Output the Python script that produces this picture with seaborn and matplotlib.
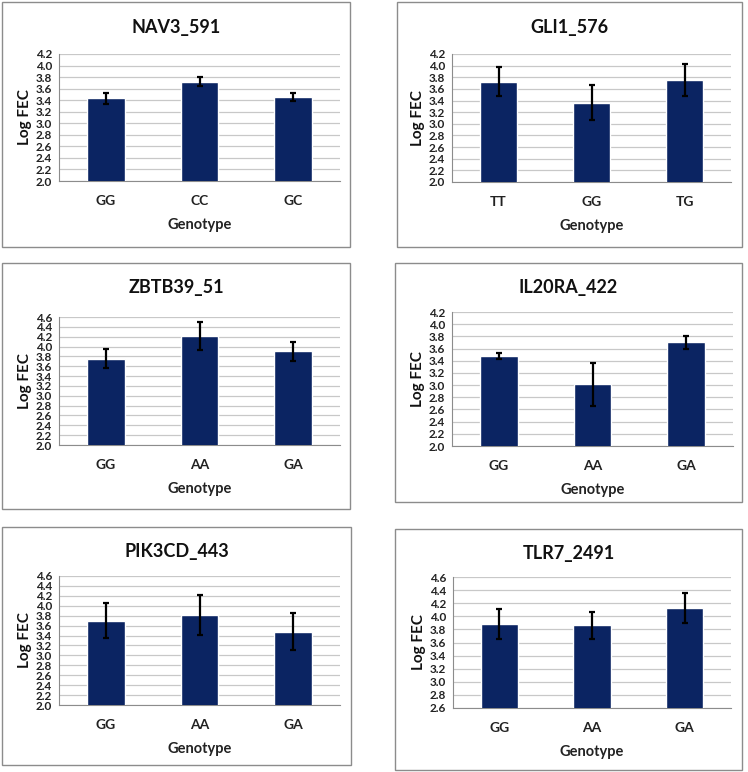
import numpy as np
import matplotlib
matplotlib.use("Agg")
import matplotlib.pyplot as plt
import seaborn as sns
import pandas as pd
from matplotlib.patches import Rectangle

sns.set_style("white")
plt.rcParams['font.family'] = ['Lato', 'DejaVu Sans']

# panel titles, genotypes, means and error bars
titles = ['NAV3_591', 'GLI1_576', 'ZBTB39_51', 'IL20RA_422', 'PIK3CD_443', 'TLR7_2491']
genotypes = [['GG', 'CC', 'GC'], ['TT', 'GG', 'TG'], ['GG', 'AA', 'GA'],
             ['GG', 'AA', 'GA'], ['GG', 'AA', 'GA'], ['GG', 'AA', 'GA']]
means = [[3.43, 3.72, 3.45], [3.72, 3.36, 3.75], [3.75, 4.21, 3.90],
         [3.48, 3.01, 3.70], [3.70, 3.81, 3.48], [3.88, 3.86, 4.13]]
errors = [[0.10, 0.08, 0.07], [0.25, 0.30, 0.28], [0.19, 0.28, 0.20],
          [0.05, 0.36, 0.11], [0.35, 0.40, 0.37], [0.23, 0.20, 0.23]]
ymins = [2.0, 2.0, 2.0, 2.0, 2.0, 2.6]
ymaxs = [4.2, 4.2, 4.6, 4.2, 4.6, 4.6]

W, H = 748, 772
# box (x0, y0, x1, y1) and plot area (x0, y0, x1, y1) in pixels, top-left origin
boxes = [(2, 2, 350, 247), (397, 2, 742, 247),
         (2, 263, 350, 509), (395, 263, 742, 502),
         (2, 527, 351, 765), (395, 529, 742, 770)]
areas = [(59, 54, 340, 181), (452, 54, 731, 182),
         (59, 317, 340, 445), (452, 312, 733, 446),
         (59, 576, 340, 705), (453, 577, 731, 708)]

bar_color = '#0b2462'

fig = plt.figure(figsize=(W / 100, H / 100), dpi=100)

for i in range(6):
    bx0, by0, bx1, by1 = boxes[i]
    fig.patches.append(Rectangle((bx0 / W, 1 - by1 / H), (bx1 - bx0) / W, (by1 - by0) / H,
                                 transform=fig.transFigure, fill=False,
                                 edgecolor='#8c8c8c', linewidth=1.0))
    # chart title is centred on the chart box, not on the plot area
    fig.text((bx0 + bx1) / 2 / W, 1 - (by0 + 25) / H, titles[i], ha='center', va='center',
             fontsize=13, fontweight='bold', color='#111111')

    ax0, ay0, ax1, ay1 = areas[i]
    ax = fig.add_axes([ax0 / W, 1 - ay1 / H, (ax1 - ax0) / W, (ay1 - ay0) / H])

    df = pd.DataFrame({'Genotype': genotypes[i], 'LogFEC': means[i]})
    sns.barplot(data=df, x='Genotype', y='LogFEC', color=bar_color, width=0.4,
                saturation=1, ax=ax, zorder=3)
    ax.errorbar(range(3), means[i], yerr=errors[i], fmt='none', ecolor='black',
                elinewidth=1.6, capsize=2.5, capthick=1.6, zorder=4)

    ax.set_xlim(-0.5, 2.5)
    ax.set_ylim(ymins[i], ymaxs[i])
    ax.set_yticks(np.round(np.arange(ymins[i], ymaxs[i] + 0.01, 0.2), 1))
    ax.set_yticklabels([f'{v:.1f}' for v in ax.get_yticks()])
    ax.yaxis.grid(True, color='#c8c8c8', linewidth=0.9, zorder=0)
    ax.set_axisbelow(True)

    for s in ['top', 'right']:
        ax.spines[s].set_visible(False)
    ax.spines['left'].set_color('#8c8c8c')
    ax.spines['bottom'].set_color('#8c8c8c')

    ax.set_xticks([-0.5, 0.5, 1.5, 2.5], minor=True)
    ax.tick_params(axis='x', which='minor', length=4, color='#8c8c8c', direction='out')
    ax.tick_params(axis='x', which='major', length=0, pad=10, labelsize=10)
    ax.tick_params(axis='y', length=4, color='#8c8c8c', pad=1, labelsize=8.5)
    for lab in ax.get_yticklabels():
        lab.set_fontweight('bold')
        lab.set_color('#222222')
    for lab in ax.get_xticklabels():
        lab.set_fontweight('bold')
        lab.set_color('#222222')

    ax.set_xlabel('Genotype', fontsize=10.5, fontweight='bold', labelpad=8, color='#222222')
    ax.set_ylabel('Log FEC', fontsize=11, fontweight='bold', labelpad=3, color='#111111')

fig.savefig('out.png', dpi=100)
